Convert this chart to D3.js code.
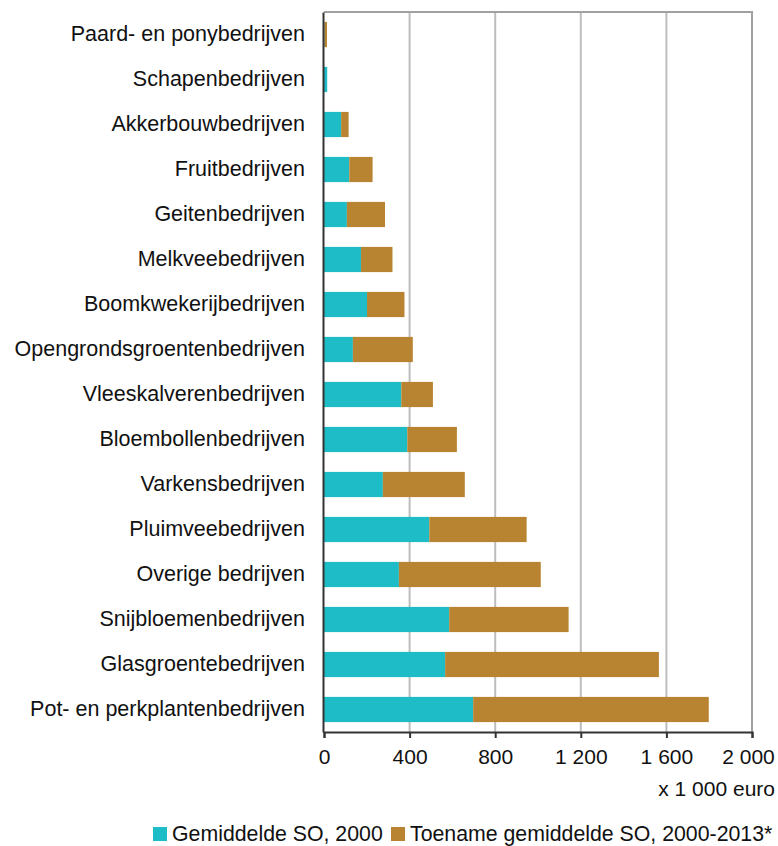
<!DOCTYPE html>
<html><head><meta charset="utf-8">
<script src="https://cdn.jsdelivr.net/npm/d3@7"></script>
<style>body{margin:0;background:#fff}svg{display:block}text{font-family:"Liberation Sans",Arial,sans-serif;fill:#111}</style>
</head><body><svg id="c" width="778" height="846"></svg>
<script>
const categories = ["Paard- en ponybedrijven","Schapenbedrijven","Akkerbouwbedrijven","Fruitbedrijven","Geitenbedrijven","Melkveebedrijven","Boomkwekerijbedrijven","Opengrondsgroentenbedrijven","Vleeskalverenbedrijven","Bloembollenbedrijven","Varkensbedrijven","Pluimveebedrijven","Overige bedrijven","Snijbloemenbedrijven","Glasgroentebedrijven","Pot- en perkplantenbedrijven"];
const so2000 = [2, 15, 80, 118, 107, 173, 201, 135, 361, 389, 275, 492, 350, 585, 566, 697];
const increase = [12, 0, 35, 109, 178, 147, 175, 280, 148, 232, 383, 455, 663, 558, 999, 1101];
const xTicks = [0, 400, 800, 1200, 1600, 2000];
const seriesNames = ["Gemiddelde SO, 2000", "Toename gemiddelde SO, 2000-2013*"];
const colors = ["#1ebcc6", "#b98431"];

const svg = d3.select("#c");
const L = 324, R = 752, T = 12, B = 732;
const x = d3.scaleLinear().domain([0, 2000]).range([L, R]);
const y = d3.scaleBand().domain(categories).range([T, B]).paddingInner(0.44).paddingOuter(0.22);
const fmt = v => d3.format(",")(v).replace(/,/g, " ");

// grid
svg.append("g").selectAll("line").data(xTicks.filter(v => v > 0 && v < 2000)).join("line")
  .attr("x1", d => x(d)).attr("x2", d => x(d)).attr("y1", T).attr("y2", B)
  .attr("stroke", "#bdbdbd").attr("stroke-width", 2);
// border top/right
svg.append("path").attr("d", `M${L},${T}H${R}V${B}`).attr("fill", "none").attr("stroke", "#a0a0a0").attr("stroke-width", 2);

const data = categories.map((c, i) => ({c, a: so2000[i], b: increase[i]}));
const g = svg.append("g");
g.selectAll("rect.a").data(data).join("rect").attr("class", "a")
  .attr("x", x(0)).attr("y", d => y(d.c)).attr("height", y.bandwidth())
  .attr("width", d => x(d.a) - x(0)).attr("fill", colors[0]);
g.selectAll("rect.b").data(data).join("rect").attr("class", "b")
  .attr("x", d => x(d.a)).attr("y", d => y(d.c)).attr("height", y.bandwidth())
  .attr("width", d => x(d.a + d.b) - x(d.a)).attr("fill", colors[1]);

// x axis
const xa = svg.append("g").attr("transform", `translate(0,${B})`)
  .call(d3.axisBottom(x).tickValues(xTicks).tickFormat(fmt).tickSize(6).tickPadding(11));
xa.select(".domain").attr("stroke", "#333").attr("stroke-width", 2);
xa.selectAll(".tick line").attr("stroke", "#333").attr("stroke-width", 2);
xa.selectAll("text").style("font-size", "21px").attr("fill", "#111");
xa.selectAll(".tick").filter(d => d === 2000).select("text").attr("dx", -4);

// y axis
const ya = svg.append("g").attr("transform", `translate(${L - 1},0)`)
  .call(d3.axisLeft(y).tickSize(0).tickPadding(18));
ya.select(".domain").attr("stroke", "#333").attr("stroke-width", 2);
ya.selectAll("text").style("font-size", "21.5px").attr("fill", "#111");

svg.append("text").attr("x", 775).attr("y", 796).attr("text-anchor", "end")
  .style("font-size", "21px").text("x 1 000 euro");

// legend
const leg = svg.append("g");
const lx = [153, 391];
seriesNames.forEach((n, i) => {
  leg.append("rect").attr("x", lx[i]).attr("y", 827).attr("width", 14).attr("height", 14).attr("fill", colors[i]);
  leg.append("text").attr("x", lx[i] + 19).attr("y", 841).style("font-size", "21.3px").text(n);
});
</script></body></html>
